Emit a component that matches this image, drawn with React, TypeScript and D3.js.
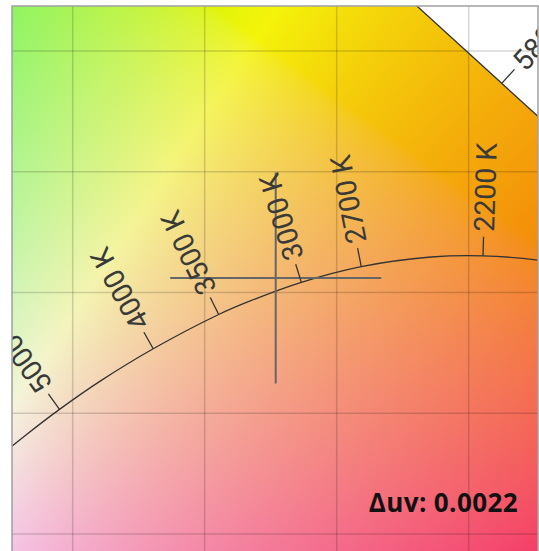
import React, { useMemo } from 'react';
import * as d3 from 'd3';

// Planckian locus (CIE 1931 xy)
const planckT = [1900, 2000, 2200, 2400, 2700, 3000, 3300, 3500, 4000, 4500, 5000, 5500, 6000, 6500];
const planckX = [0.5381, 0.5269, 0.5054, 0.4857, 0.4593, 0.4366, 0.4170, 0.4053, 0.3805, 0.3607, 0.3450, 0.3323, 0.3220, 0.3135];
const planckY = [0.4111, 0.4133, 0.4152, 0.4147, 0.4107, 0.4042, 0.3964, 0.3909, 0.3767, 0.3635, 0.3516, 0.3410, 0.3318, 0.3237];
const cctLabels = [2200, 2700, 3000, 3500, 4000, 5000];

// Spectral locus (CIE 1931 2°)
const spectralNm = [560, 565, 570, 575, 580, 585, 590, 595, 600];
const spectralX = [0.3731, 0.4087, 0.4441, 0.4788, 0.5125, 0.5448, 0.5752, 0.6029, 0.6270];
const spectralY = [0.6245, 0.5896, 0.5547, 0.5202, 0.4866, 0.4544, 0.4242, 0.3965, 0.3725];
const wavelengthLabels = [580];

const gridX = [0.35, 0.4, 0.45, 0.5];
const gridY = [0.3, 0.35, 0.4, 0.45, 0.5];

const sampleX = [0.4269];
const sampleY = [0.406];
const deltaUv = '0.0022';

const W = 539;
const H = 551;
const left = 12;
const top = 6;
const right = 538;
const bottom = 560;

const xs = d3.scaleLinear().domain([0.32701, 0.52625]).range([left, right]);
const ys = d3.scaleLinear().domain([0.28923, 0.51863]).range([bottom, top]);

function xyToRgb(cx: number, cy: number): [number, number, number] {
  const X = cx / cy;
  const Y = 1;
  const Z = (1 - cx - cy) / cy;
  let r = 3.2406 * X - 1.5372 * Y - 0.4986 * Z;
  let g = -0.9689 * X + 1.8758 * Y + 0.0415 * Z;
  let b = 0.0557 * X - 0.204 * Y + 1.057 * Z;
  r = Math.max(r, 0);
  g = Math.max(g, 0);
  b = Math.max(b, 0);
  const m = Math.max(r, g, b) || 1;
  const gam = (v: number) => {
    v = v / m;
    const s = v <= 0.0031308 ? 12.92 * v : 1.055 * Math.pow(v, 1 / 2.4) - 0.055;
    // slight desaturation toward a light grey and darkening to match rendering
    const t = Math.min(1, s) * 0.93 + 0.04;
    return Math.round(Math.min(1, t) * 0.985 * 255);
  };
  return [gam(r), gam(g), gam(b)];
}

function useBackground(): string {
  return useMemo(() => {
    if (typeof document === 'undefined') return '';
    const w = right - left;
    const h = bottom - top;
    const canvas = document.createElement('canvas');
    canvas.width = w;
    canvas.height = h;
    const ctx = canvas.getContext('2d');
    if (!ctx) return '';
    const img = ctx.createImageData(w, h);
    for (let j = 0; j < h; j++) {
      const cy = ys.invert(top + j + 0.5);
      for (let i = 0; i < w; i++) {
        const cx = xs.invert(left + i + 0.5);
        const [r, g, b] = xyToRgb(cx, cy);
        const k = (j * w + i) * 4;
        img.data[k] = r;
        img.data[k + 1] = g;
        img.data[k + 2] = b;
        img.data[k + 3] = 255;
      }
    }
    ctx.putImageData(img, 0, 0);
    return canvas.toDataURL();
  }, []);
}

const TICK = 19;
const LABEL_OFF = 24;

export default function App() {
  const bg = useBackground();

  const planckPts: [number, number][] = planckT.map((_, i) => [xs(planckX[i]), ys(planckY[i])]);
  const spectralPts: [number, number][] = spectralNm.map((_, i) => [xs(spectralX[i]), ys(spectralY[i])]);

  const line = d3.line().curve(d3.curveCatmullRom.alpha(0.5));
  const planckPath = line(planckPts) || '';
  const spectralPath = d3.line()(spectralPts) || '';

  const last = spectralPts[spectralPts.length - 1];
  const first = spectralPts[0];
  const gamutPoly: [number, number][] = [
    ...spectralPts,
    [last[0], H + 200],
    [-200, H + 200],
    [-200, first[1]],
  ];
  const gamutPath = d3.line()(gamutPoly) + 'Z';

  const cctMarks = cctLabels.map((T) => {
    const i = planckT.indexOf(T);
    const p = planckPts[i];
    const a = planckPts[i - 1];
    const b = planckPts[i + 1];
    const tx = b[0] - a[0];
    const ty = b[1] - a[1];
    const len = Math.hypot(tx, ty);
    const nx = -ty / len;
    const ny = tx / len;
    const ang = (Math.atan2(ny, nx) * 180) / Math.PI;
    return { T, p, nx, ny, ang };
  });

  const nmMarks = wavelengthLabels.map((nm) => {
    const i = spectralNm.indexOf(nm);
    const p = spectralPts[i];
    const a = spectralPts[i - 1];
    const b = spectralPts[i + 1];
    const tx = b[0] - a[0];
    const ty = b[1] - a[1];
    const len = Math.hypot(tx, ty);
    const nx = ty / len;
    const ny = -tx / len;
    const ang = (Math.atan2(ny, nx) * 180) / Math.PI;
    return { nm, p, nx, ny, ang };
  });

  const cx = xs(sampleX[0]);
  const cy = ys(sampleY[0]);
  const arm = 105.5;

  const labelFont = 'Roboto, "Noto Sans", sans-serif';

  return (
    <div style={{ position: 'fixed', left: 0, top: 0, width: W, height: H, overflow: 'hidden', background: '#fff' }}>
      <svg width={W} height={H} viewBox={`0 0 ${W} ${H}`} style={{ display: 'block' }}>
        <defs>
          <clipPath id="plotClip">
            <rect x={left} y={top} width={right - left} height={bottom - top} />
          </clipPath>
          <clipPath id="gamutClip">
            <path d={gamutPath} />
          </clipPath>
        </defs>
        <rect x={0} y={0} width={W} height={H} fill="#fff" />
        <g clipPath="url(#plotClip)">
          {bg && (
            <image
              href={bg}
              x={left}
              y={top}
              width={right - left}
              height={bottom - top}
              preserveAspectRatio="none"
              clipPath="url(#gamutClip)"
            />
          )}
          {gridX.map((v) => (
            <line key={'gx' + v} x1={xs(v)} x2={xs(v)} y1={top} y2={bottom} stroke="#000" strokeOpacity={0.16} strokeWidth={1.5} />
          ))}
          {gridY.map((v) => (
            <line key={'gy' + v} x1={left} x2={right} y1={ys(v)} y2={ys(v)} stroke="#000" strokeOpacity={0.16} strokeWidth={1.5} />
          ))}
          <path d={spectralPath} fill="none" stroke="#333" strokeWidth={1.3} />
          <path d={planckPath} fill="none" stroke="#333" strokeWidth={1.3} />
          {/* sample crosshair */}
          <line x1={cx - arm} x2={cx + arm} y1={cy} y2={cy} stroke="#666" strokeWidth={2} />
          <line x1={cx} x2={cx} y1={cy - arm} y2={cy + arm} stroke="#666" strokeWidth={2} />
          {cctMarks.map((m) => (
            <g key={'cct' + m.T}>
              <line
                x1={m.p[0]}
                y1={m.p[1]}
                x2={m.p[0] + m.nx * TICK}
                y2={m.p[1] + m.ny * TICK}
                stroke="#333"
                strokeWidth={1.3}
              />
              <text
                transform={`translate(${m.p[0] + m.nx * LABEL_OFF},${m.p[1] + m.ny * LABEL_OFF}) rotate(${m.ang})`}
                dy="0.36em"
                textAnchor="start"
                fontFamily={labelFont}
                fontSize={28.5}
                fill="#3a3a3a"
              >
                {`${m.T} K`}
              </text>
            </g>
          ))}
          {nmMarks.map((m) => (
            <g key={'nm' + m.nm}>
              <line
                x1={m.p[0]}
                y1={m.p[1]}
                x2={m.p[0] + m.nx * TICK}
                y2={m.p[1] + m.ny * TICK}
                stroke="#333"
                strokeWidth={1.3}
              />
              <text
                transform={`translate(${m.p[0] + m.nx * LABEL_OFF},${m.p[1] + m.ny * LABEL_OFF}) rotate(${m.ang})`}
                dy="0.36em"
                textAnchor="start"
                fontFamily={labelFont}
                fontSize={28.5}
                fill="#3a3a3a"
              >
                {`${m.nm} nm`}
              </text>
            </g>
          ))}
          <text
            x={518}
            y={512}
            textAnchor="end"
            fontFamily='"Open Sans", "Noto Sans", sans-serif'
            fontWeight={700}
            fontSize={26}
            letterSpacing={0.4}
            fill="#111"
          >
            {`Δuv: ${deltaUv}`}
          </text>
        </g>
        <rect x={left} y={top} width={right - left} height={bottom - top} fill="none" stroke="#a0a0a0" strokeWidth={1.5} />
      </svg>
    </div>
  );
}
